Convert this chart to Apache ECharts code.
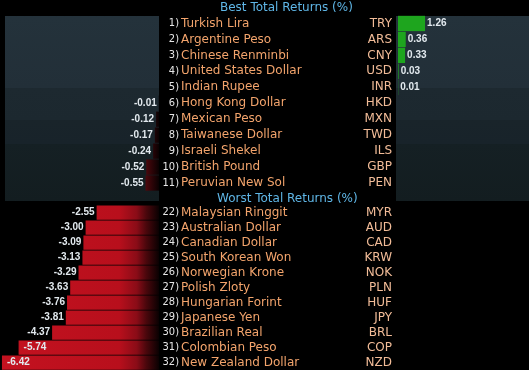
<!DOCTYPE html>
<html><head><meta charset="utf-8">
<script src="https://cdn.jsdelivr.net/npm/echarts@6/dist/echarts.min.js"></script>
<style>html,body{margin:0;padding:0;background:#000;}#c{width:529px;height:370px;}</style>
</head><body><div id="c"></div>
<script>
const titles = ['Best Total Returns (%)', 'Worst Total Returns (%)'];
const bestRanks = ['1)','2)','3)','4)','5)','6)','7)','8)','9)','10)','11)'];
const bestNames = ['Turkish Lira','Argentine Peso','Chinese Renminbi','United States Dollar','Indian Rupee','Hong Kong Dollar','Mexican Peso','Taiwanese Dollar','Israeli Shekel','British Pound','Peruvian New Sol'];
const bestCodes = ['TRY','ARS','CNY','USD','INR','HKD','MXN','TWD','ILS','GBP','PEN'];
const bestValues = [1.26, 0.36, 0.33, 0.03, 0.01, -0.01, -0.12, -0.17, -0.24, -0.52, -0.55];
const worstRanks = ['22)','23)','24)','25)','26)','27)','28)','29)','30)','31)','32)'];
const worstNames = ['Malaysian Ringgit','Australian Dollar','Canadian Dollar','South Korean Won','Norwegian Krone','Polish Zloty','Hungarian Forint','Japanese Yen','Brazilian Real','Colombian Peso','New Zealand Dollar'];
const worstCodes = ['MYR','AUD','CAD','KRW','NOK','PLN','HUF','JPY','BRL','COP','NZD'];
const worstValues = [-2.55, -3.00, -3.09, -3.13, -3.29, -3.63, -3.76, -3.81, -4.37, -5.74, -6.42];

const chart = echarts.init(document.getElementById('c'), null, {renderer: 'canvas'});

const NAME_COLOR = '#f3a46c';
const CODE_COLOR = '#f2bc98';
const RANK_COLOR = '#e6e6e6';
const VAL_COLOR = '#e2e9ee';
const textFont = "'DejaVu Sans', sans-serif";

const redGrad = {
  type: 'linear', x: 0, y: 0, x2: 159, y2: 0, global: true,
  colorStops: [
    {offset: 0, color: '#c41220'},
    {offset: 0.75, color: '#b80f1c'},
    {offset: 0.86, color: '#8a0c17'},
    {offset: 0.92, color: '#4a070c'},
    {offset: 1, color: '#0a0102'}
  ]
};
const panelGrad = new echarts.graphic.LinearGradient(0, 0, 0, 1, [
  {offset: 0, color: '#24323b'},
  {offset: 0.389, color: '#222f38'},
  {offset: 0.39, color: '#1d2930'},
  {offset: 0.56, color: '#1c282f'},
  {offset: 0.562, color: '#19242a'},
  {offset: 0.69, color: '#18232a'},
  {offset: 0.692, color: '#152024'},
  {offset: 1, color: '#131d20'}
]);

function labelAxes(gridIndex, ranks, names, codes) {
  const base = {
    type: 'category', gridIndex, inverse: true, position: 'right',
    axisLine: {show: false}, axisTick: {show: false}, splitLine: {show: false}
  };
  return [
    Object.assign({}, base, {data: ranks, axisLabel: {interval: 0, margin: 20, align: 'right', color: RANK_COLOR,
      fontFamily: "'Liberation Sans Narrow', 'DejaVu Sans Condensed', sans-serif", fontSize: 11}}),
    Object.assign({}, base, {data: names, axisLabel: {interval: 0, margin: 22, align: 'left', color: NAME_COLOR,
      fontFamily: textFont, fontSize: 12}}),
    Object.assign({}, base, {data: codes, axisLabel: {interval: 0, margin: 233, align: 'right', color: CODE_COLOR,
      fontFamily: textFont, fontSize: 12}})
  ];
}

function negData(vals) {
  return vals.map(v => {
    if (v >= 0) return '-';
    if (v < -5) return {value: v, label: {position: 'insideLeft', distance: 5}};
    return v;
  });
}

const valLabel = {
  show: true, color: VAL_COLOR, fontFamily: "'Liberation Sans', Arial, sans-serif",
  fontSize: 10, fontWeight: 'bold', formatter: p => Number(p.value).toFixed(2)
};

const option = {
  backgroundColor: '#000',
  animation: false,
  title: [
    {text: titles[0], left: 220, top: 1, padding: 0,
      textStyle: {color: '#5fb6e6', fontSize: 12, fontWeight: 'normal', fontFamily: textFont, lineHeight: 14}},
    {text: titles[1], left: 217, top: 192, padding: 0,
      textStyle: {color: '#5fb6e6', fontSize: 12, fontWeight: 'normal', fontFamily: textFont, lineHeight: 14}}
  ],
  graphic: [
    {type: 'rect', z: -10, silent: true, shape: {x: 5, y: 16, width: 154, height: 185}, style: {fill: panelGrad}},
    {type: 'rect', z: -10, silent: true, shape: {x: 396, y: 16, width: 133, height: 185}, style: {fill: panelGrad}}
  ],
  grid: [
    {left: 0, top: 15.5, width: 159, height: 175.5},
    {left: 0, top: 205, width: 159, height: 165},
    {left: 398, top: 15.5, width: 131, height: 175.5}
  ],
  xAxis: [
    {type: 'value', gridIndex: 0, min: -6.5, max: 0, show: false},
    {type: 'value', gridIndex: 1, min: -6.5, max: 0, show: false},
    {type: 'value', gridIndex: 2, min: 0, max: 6.1, show: false}
  ],
  yAxis: [
    ...labelAxes(0, bestRanks, bestNames, bestCodes),
    ...labelAxes(1, worstRanks, worstNames, worstCodes),
    {type: 'category', gridIndex: 2, inverse: true, data: bestCodes, show: false}
  ],
  series: [
    {type: 'bar', xAxisIndex: 0, yAxisIndex: 0, data: negData(bestValues), barCategoryGap: '4%',
      itemStyle: {color: redGrad}, label: Object.assign({position: 'left', distance: 2}, valLabel)},
    {type: 'bar', xAxisIndex: 1, yAxisIndex: 3, data: negData(worstValues), barCategoryGap: '5%',
      itemStyle: {color: redGrad}, label: Object.assign({position: 'left', distance: 2}, valLabel)},
    {type: 'bar', xAxisIndex: 2, yAxisIndex: 6, data: bestValues.map(v => v > 0 ? v : '-'), barCategoryGap: '4%',
      itemStyle: {color: '#1ea51e'}, label: Object.assign({position: 'right', distance: 2}, valLabel)}
  ]
};
chart.setOption(option);
</script>
</body></html>
